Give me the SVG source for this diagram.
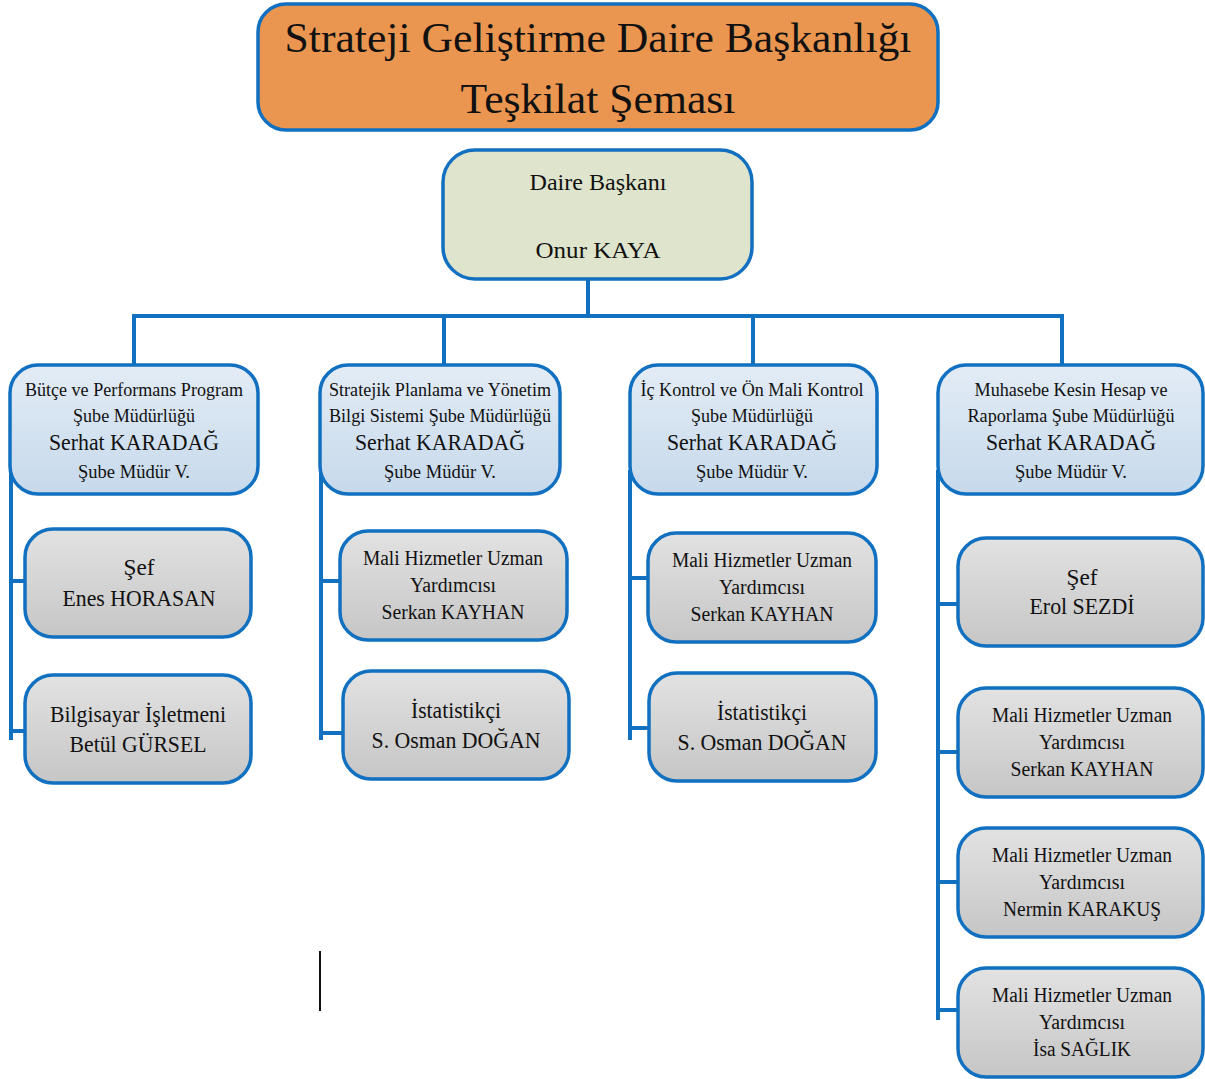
<svg xmlns="http://www.w3.org/2000/svg" width="1205" height="1079" viewBox="0 0 1205 1079">
<defs>
<linearGradient id="gBlue" x1="0" y1="0" x2="0" y2="1"><stop offset="0" stop-color="#E3ECF6"/><stop offset="1" stop-color="#C6D9EB"/></linearGradient>
<linearGradient id="gGray" x1="0" y1="0" x2="0" y2="1"><stop offset="0" stop-color="#E2E2E2"/><stop offset="1" stop-color="#C6C6C6"/></linearGradient>
</defs>
<style>
.box{stroke:#1170C0;stroke-width:3.5}
.blue{fill:url(#gBlue)}
.gray{fill:url(#gGray)}
text{font-family:"Liberation Serif","Times New Roman",serif;fill:#111;text-anchor:middle}
.conn{stroke:#1170C0;stroke-width:4;fill:none}
.s{font-size:18px}
.m{font-size:23px}
.c{font-size:20px}
.n{font-size:24px}
</style>
<rect width="1205" height="1079" fill="#fff"/>
<g id="connectors">
<path class="conn" d="M588 279V316M134 316H1062M134 314V366M444 314V366M753 314V366M1062 314V366"/>
<path class="conn" d="M11 470V740M11 581H31M11 731H31"/>
<path class="conn" d="M321 470V740M321 581H341M321 733H343"/>
<path class="conn" d="M630 470V740M630 578H650M630 728H650"/>
<path class="conn" d="M938 470V1020M938 604H958M938 752H958M938 882H958M938 1010H958"/>
</g>
<g id="title">
<rect class="box" x="258" y="4" width="680" height="126" rx="28" fill="#EA9650"/>
<text x="598" y="52" style="font-size:42px" textLength="627" lengthAdjust="spacingAndGlyphs">Strateji Geliştirme Daire Başkanlığı</text>
<text x="598" y="113" style="font-size:42px" textLength="275" lengthAdjust="spacingAndGlyphs">Teşkilat Şeması</text>
</g>
<g id="daire-baskani">
<rect class="box" x="443" y="150" width="309" height="129" rx="32" fill="#DFE4CC"/>
<text class="n" x="598" y="190" textLength="137" lengthAdjust="spacingAndGlyphs">Daire Başkanı</text>
<text class="n" x="598" y="258" textLength="125" lengthAdjust="spacingAndGlyphs">Onur KAYA</text>
</g>
<g id="sube1">
<rect class="box blue" x="10" y="365" width="248" height="129" rx="28"/>
<text class="s" x="134" y="396" textLength="218" lengthAdjust="spacingAndGlyphs">Bütçe ve Performans Program</text>
<text class="s" x="134" y="422" textLength="122" lengthAdjust="spacingAndGlyphs">Şube Müdürlüğü</text>
<text class="m" x="134" y="450" textLength="170" lengthAdjust="spacingAndGlyphs">Serhat KARADAĞ</text>
<text class="s" x="134" y="478" textLength="112" lengthAdjust="spacingAndGlyphs">Şube Müdür V.</text>
</g>
<g id="sube2">
<rect class="box blue" x="320" y="365" width="240" height="129" rx="28"/>
<text class="s" x="440" y="396" textLength="222" lengthAdjust="spacingAndGlyphs">Stratejik Planlama ve Yönetim</text>
<text class="s" x="440" y="422" textLength="222" lengthAdjust="spacingAndGlyphs">Bilgi Sistemi Şube Müdürlüğü</text>
<text class="m" x="440" y="450" textLength="170" lengthAdjust="spacingAndGlyphs">Serhat KARADAĞ</text>
<text class="s" x="440" y="478" textLength="112" lengthAdjust="spacingAndGlyphs">Şube Müdür V.</text>
</g>
<g id="sube3">
<rect class="box blue" x="630" y="365" width="247" height="129" rx="28"/>
<text class="s" x="752" y="396" textLength="223" lengthAdjust="spacingAndGlyphs">İç Kontrol ve Ön Mali Kontrol</text>
<text class="s" x="752" y="422" textLength="122" lengthAdjust="spacingAndGlyphs">Şube Müdürlüğü</text>
<text class="m" x="752" y="450" textLength="170" lengthAdjust="spacingAndGlyphs">Serhat KARADAĞ</text>
<text class="s" x="752" y="478" textLength="112" lengthAdjust="spacingAndGlyphs">Şube Müdür V.</text>
</g>
<g id="sube4">
<rect class="box blue" x="938" y="365" width="265" height="129" rx="28"/>
<text class="s" x="1071" y="396" textLength="193" lengthAdjust="spacingAndGlyphs">Muhasebe Kesin Hesap ve</text>
<text class="s" x="1071" y="422" textLength="207" lengthAdjust="spacingAndGlyphs">Raporlama Şube Müdürlüğü</text>
<text class="m" x="1071" y="450" textLength="170" lengthAdjust="spacingAndGlyphs">Serhat KARADAĞ</text>
<text class="s" x="1071" y="478" textLength="112" lengthAdjust="spacingAndGlyphs">Şube Müdür V.</text>
</g>
<g id="sef1">
<rect class="box gray" x="25" y="529" width="226" height="108" rx="28"/>
<text class="m" x="139" y="575" textLength="31" lengthAdjust="spacingAndGlyphs">Şef</text>
<text class="m" x="139" y="606" textLength="153" lengthAdjust="spacingAndGlyphs">Enes HORASAN</text>
</g>
<g id="bilgisayar1">
<rect class="box gray" x="25" y="675" width="226" height="108" rx="28"/>
<text class="m" x="138" y="722" textLength="176" lengthAdjust="spacingAndGlyphs">Bilgisayar İşletmeni</text>
<text class="m" x="138" y="752" textLength="137" lengthAdjust="spacingAndGlyphs">Betül GÜRSEL</text>
</g>
<g id="mhuy2">
<rect class="box gray" x="340" y="531" width="227" height="109" rx="28"/>
<text class="c" x="453" y="565" textLength="180" lengthAdjust="spacingAndGlyphs">Mali Hizmetler Uzman</text>
<text class="c" x="453" y="592" textLength="86" lengthAdjust="spacingAndGlyphs">Yardımcısı</text>
<text class="c" x="453" y="619" textLength="143" lengthAdjust="spacingAndGlyphs">Serkan KAYHAN</text>
</g>
<g id="istatistik2">
<rect class="box gray" x="343" y="671" width="226" height="108" rx="28"/>
<text class="m" x="456" y="718" textLength="90" lengthAdjust="spacingAndGlyphs">İstatistikçi</text>
<text class="m" x="456" y="748" textLength="169" lengthAdjust="spacingAndGlyphs">S. Osman DOĞAN</text>
</g>
<g id="mhuy3">
<rect class="box gray" x="648" y="533" width="228" height="109" rx="28"/>
<text class="c" x="762" y="567" textLength="180" lengthAdjust="spacingAndGlyphs">Mali Hizmetler Uzman</text>
<text class="c" x="762" y="594" textLength="86" lengthAdjust="spacingAndGlyphs">Yardımcısı</text>
<text class="c" x="762" y="621" textLength="143" lengthAdjust="spacingAndGlyphs">Serkan KAYHAN</text>
</g>
<g id="istatistik3">
<rect class="box gray" x="649" y="673" width="227" height="108" rx="28"/>
<text class="m" x="762" y="720" textLength="90" lengthAdjust="spacingAndGlyphs">İstatistikçi</text>
<text class="m" x="762" y="750" textLength="169" lengthAdjust="spacingAndGlyphs">S. Osman DOĞAN</text>
</g>
<g id="sef4">
<rect class="box gray" x="958" y="538" width="245" height="108" rx="28"/>
<text class="m" x="1082" y="585" textLength="31" lengthAdjust="spacingAndGlyphs">Şef</text>
<text class="m" x="1082" y="614" textLength="105" lengthAdjust="spacingAndGlyphs">Erol SEZDİ</text>
</g>
<g id="mhuy4a">
<rect class="box gray" x="958" y="688" width="245" height="109" rx="28"/>
<text class="c" x="1082" y="722" textLength="180" lengthAdjust="spacingAndGlyphs">Mali Hizmetler Uzman</text>
<text class="c" x="1082" y="749" textLength="86" lengthAdjust="spacingAndGlyphs">Yardımcısı</text>
<text class="c" x="1082" y="776" textLength="143" lengthAdjust="spacingAndGlyphs">Serkan KAYHAN</text>
</g>
<g id="mhuy4b">
<rect class="box gray" x="958" y="828" width="245" height="109" rx="28"/>
<text class="c" x="1082" y="862" textLength="180" lengthAdjust="spacingAndGlyphs">Mali Hizmetler Uzman</text>
<text class="c" x="1082" y="889" textLength="86" lengthAdjust="spacingAndGlyphs">Yardımcısı</text>
<text class="c" x="1082" y="916" textLength="158" lengthAdjust="spacingAndGlyphs">Nermin KARAKUŞ</text>
</g>
<g id="mhuy4c">
<rect class="box gray" x="958" y="968" width="245" height="109" rx="28"/>
<text class="c" x="1082" y="1002" textLength="180" lengthAdjust="spacingAndGlyphs">Mali Hizmetler Uzman</text>
<text class="c" x="1082" y="1029" textLength="86" lengthAdjust="spacingAndGlyphs">Yardımcısı</text>
<text class="c" x="1082" y="1056" textLength="98" lengthAdjust="spacingAndGlyphs">İsa SAĞLIK</text>
</g>
<line x1="320" y1="951" x2="320" y2="1011" stroke="#111" stroke-width="2"/>
</svg>
